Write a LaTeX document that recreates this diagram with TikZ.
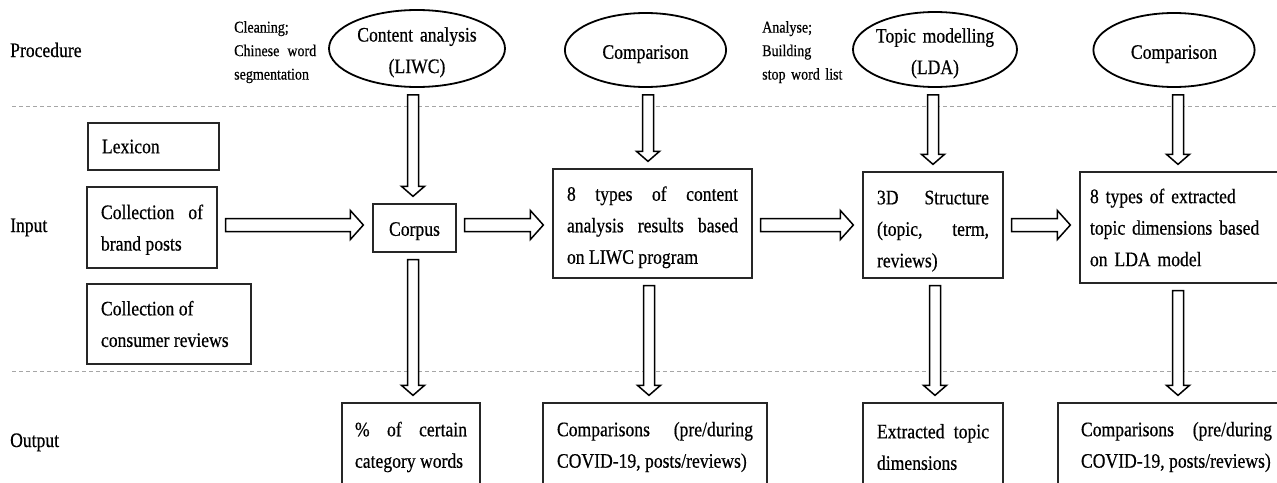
\documentclass[tikz,border=0pt]{standalone}
\usepackage{fontspec}
\setmainfont[FakeStretch=0.855, FakeBold=0.5]{Liberation Serif}
\usetikzlibrary{calc, shapes.geometric}
\setlength{\parindent}{0pt}
\newcommand{\mainsize}{\fontsize{20.6}{31.5}\selectfont}
\newcommand{\notesize}{\fontsize{16.4}{23.5}\selectfont}
\newcommand{\lift}[1]{\rule{0pt}{#1}}
\tikzset{
  rowlabel/.style   = {font=\mainsize, anchor=base west, inner sep=0pt},
  stepoval/.style   = {ellipse, draw=black, line width=1.8pt, font=\mainsize,
                       text width=120, align=center, inner xsep=-3pt,
                       inner ysep=-3pt},
  notetext/.style   = {font=\notesize, anchor=north west, inner sep=0pt,
                       align=justify},
  databox/.style    = {draw=black!85, line width=1.3pt, font=\mainsize,
                       inner xsep=14pt, inner ysep=0pt, align=justify},
  blockarrow/.style = {draw=black, line width=1.5pt, fill=white,
                       line join=miter},
  sepline/.style    = {draw=gray!70, line width=0.9pt,
                       dash pattern=on 4pt off 3pt},
}
% hollow block arrows: #1 = column x / row y (px), #2 = from node, #3 = to node
\newcommand{\vblock}[3]{%
  \draw[blockarrow] let \p1=(#2), \p2=(#3) in
    (#1pt-5.5pt,\y1-7pt) -- (#1pt+5.5pt,\y1-7pt) -- (#1pt+5.5pt,\y2+17pt)
    -- (#1pt+11.5pt,\y2+17pt) -- (#1pt,\y2+7pt) -- (#1pt-11.5pt,\y2+17pt)
    -- (#1pt-5.5pt,\y2+17pt) -- cycle;}
\newcommand{\hblock}[3]{%
  \draw[blockarrow] let \p1=(#2), \p2=(#3) in
    (\x1+8pt,-#1pt+6.5pt) -- (\x2-22pt,-#1pt+6.5pt) -- (\x2-22pt,-#1pt+14.5pt)
    -- (\x2-9pt,-#1pt) -- (\x2-22pt,-#1pt-14.5pt) -- (\x2-22pt,-#1pt-6.5pt)
    -- (\x1+8pt,-#1pt-6.5pt) -- cycle;}
\begin{document}
\begin{tikzpicture}[x=1pt, y=-1pt]
  \useasboundingbox (0,0) rectangle (1277,482);
  \fill[white] (0,0) rectangle (1277,482);
  \clip (0,0) rectangle (1277,482);
  \draw[sepline] (12,106) -- (1277,106);
  \draw[sepline] (12,371) -- (1277,371);
  \node[rowlabel] (lprocedure) at (10,57) {Procedure};
  \node[rowlabel] (linput) at (10,232) {Input};
  \node[rowlabel] (loutput) at (10,447) {Output};
  % procedure row
  \node[notetext, text width=82] (noteclean) at (234,21)
    {Cleaning;\\Chinese word\linebreak segmentation};
  \node[notetext, align=left, text width=110] (notelda) at (762,21)
    {Analyse;\\Building\\stop word list};
  \node[stepoval, minimum width=176, minimum height=77] (liwc) at (417,48.5)
    {\lift{22pt}Content analysis\\(LIWC)};
  \node[stepoval, minimum width=155, minimum height=74] (cmpa) at (645.5,50)
    {\lift{22pt}Comparison};
  \node[stepoval, minimum width=164, minimum height=75] (lda) at (935,49.5)
    {\lift{22pt}Topic modelling\\(LDA)};
  \node[stepoval, minimum width=138, minimum height=74] (cmpb) at (1174,50)
    {\lift{22pt}Comparison};
  % input row
  \node[databox, text width=103, minimum height=47] (lexicon) at (153.5,146.5)
    {Lexicon};
  \node[databox, text width=102, minimum height=81] (posts) at (152,227.5)
    {\lift{19pt}Collection of\linebreak brand posts};
  \node[databox, text width=136, minimum height=80] (reviews) at (169,324)
    {Collection of\\consumer reviews};
  \node[databox, text width=55, align=center, minimum height=48] (corpus)
    at (414.5,228) {\lift{20pt}Corpus};
  \node[databox, text width=171, minimum height=109] (liwcres) at (652.5,223.5)
    {\lift{22pt}8 types of content\linebreak analysis results based\linebreak
     on LIWC program};
  \node[databox, text width=112, minimum height=106] (struct) at (933,225)
    {\lift{26pt}3D Structure\linebreak (topic, term,\linebreak reviews)};
  \node[databox, text width=190, inner xsep=10pt, align=left,
        minimum height=111] (ldares) at (1185,227.5)
    {8 types of extracted\\topic dimensions based\\on LDA model};
  % output row
  \node[databox, text width=112, inner xsep=13pt, minimum height=88] (pct)
    at (411,447) {\% of certain\linebreak category words};
  \node[databox, text width=196, minimum height=88] (cmpres) at (655,447)
    {Comparisons (pre/during\linebreak COVID-19, posts/reviews)};
  \node[databox, text width=112, minimum height=88] (topics) at (933,447)
    {Extracted topic\linebreak dimensions};
  \node[databox, text width=191, inner xsep=23pt, minimum height=88] (cmpres2)
    at (1176.5,447) {Comparisons (pre/during\linebreak COVID-19, posts/reviews)};
  % arrows
  \hblock{225}{posts.east}{corpus.west}
  \hblock{225}{corpus.east}{liwcres.west}
  \hblock{225}{liwcres.east}{struct.west}
  \hblock{225}{struct.east}{ldares.west}
  \vblock{413}{liwc.south}{corpus.north}
  \vblock{648}{cmpa.south}{liwcres.north}
  \vblock{933}{lda.south}{struct.north}
  \vblock{1178}{cmpb.south}{ldares.north}
  \vblock{413}{corpus.south}{pct.north}
  \vblock{649}{liwcres.south}{cmpres.north}
  \vblock{935}{struct.south}{topics.north}
  \vblock{1178}{ldares.south}{cmpres2.north}
\end{tikzpicture}
\end{document}
